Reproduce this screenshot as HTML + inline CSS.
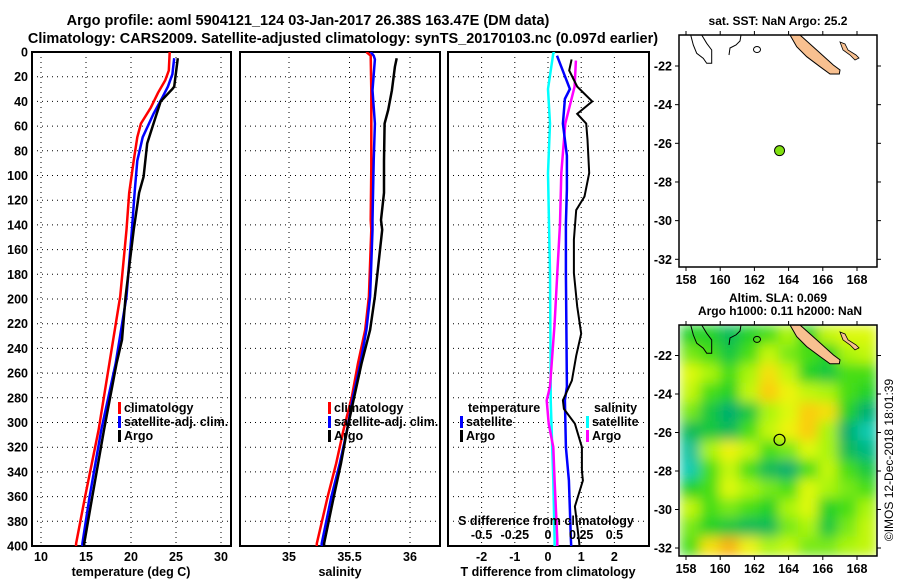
<!DOCTYPE html>
<html><head><meta charset="utf-8">
<style>
html,body{margin:0;padding:0;background:#fff;}
svg{display:block;font-family:"Liberation Sans",Arial,sans-serif;font-weight:bold;}
</style></head>
<body>
<svg id="fig" width="900" height="580" viewBox="0 0 900 580" xmlns="http://www.w3.org/2000/svg">
<defs>
<filter id="blur" x="-10%" y="-10%" width="120%" height="120%"><feGaussianBlur stdDeviation="6" edgeMode="duplicate"/></filter>
<clipPath id="clipMap2"><rect x="680" y="325" width="197" height="231"/></clipPath>
<clipPath id="clipP1"><rect x="32" y="52" width="199" height="494"/></clipPath>
<clipPath id="clipP2"><rect x="240" y="52" width="200" height="494"/></clipPath>
<clipPath id="clipP3"><rect x="448" y="52" width="201" height="494"/></clipPath>
</defs>
<text x="308" y="25" font-size="14.5" text-anchor="middle">Argo profile: aoml 5904121_124 03-Jan-2017 26.38S 163.47E (DM data)</text>
<text x="343" y="43" font-size="14.5" text-anchor="middle">Climatology: CARS2009. Satellite-adjusted climatology: synTS_20170103.nc (0.097d earlier)</text>
<text x="778" y="25" font-size="12" text-anchor="middle">sat. SST: NaN Argo: 25.2</text>
<text x="778" y="302" font-size="12" text-anchor="middle">Altim. SLA: 0.069</text>
<text x="780" y="315" font-size="12" text-anchor="middle">Argo h1000: 0.11 h2000: NaN</text>
<text transform="translate(893,460) rotate(-90)" font-size="12" font-weight="normal" text-anchor="middle">©IMOS 12-Dec-2018 18:01:39</text>
<g id="g"></g>
</svg>
<script>
// ---------- data ----------
const depthTicks = [0,20,40,60,80,100,120,140,160,180,200,220,240,260,280,300,320,340,360,380,400];
const tempTicks = [10,15,20,25,30];
const salTicks = [35,35.5,36];
const tdiffTicks = [-2,-1,0,1,2];
const sdiffTicks = [-0.5,-0.25,0,0.25,0.5];
const sdiffLabels = ["-0.5","-0.25","0","0.25","0.5"];

const climTDepth = [0,15,23,33,45,58,69,88,114,144,198,252,306,360,398,400];
const climT      = [24.3,24.2,23.8,23.0,22.2,21.1,20.7,20.3,19.8,19.5,18.8,17.6,16.4,14.9,13.9,13.9];
const satTDepth  = [5,18,28,38,50,69,88,114,144,198,252,306,360,398,400];
const satT       = [24.8,24.6,24.1,23.4,22.5,21.3,20.7,20.4,20.1,19.5,18.3,16.7,15.4,14.6,14.6];
const argoTDepth = [5,28,30,40,58,74,101,114,144,198,233,252,306,360,398,400];
const argoT      = [25.2,24.8,24.6,23.3,22.5,21.8,21.4,20.9,20.3,19.4,19.0,18.4,17.0,15.7,14.8,14.8];

const climSDepth = [0,3,31,93,136,144,198,225,252,279,306,333,360,398,400];
const climS      = [35.64,35.675,35.68,35.68,35.675,35.68,35.66,35.63,35.57,35.52,35.45,35.39,35.32,35.23,35.23];
const satSDepth  = [0,3,6,31,58,88,136,144,198,225,252,279,306,333,360,398,400];
const satS       = [35.675,35.70,35.71,35.69,35.71,35.70,35.69,35.69,35.67,35.64,35.59,35.53,35.48,35.42,35.35,35.27,35.27];
const argoSDepth = [5,12,31,47,58,88,114,136,144,198,225,252,279,306,333,360,398,400];
const argoS      = [35.89,35.875,35.85,35.82,35.79,35.785,35.785,35.76,35.77,35.71,35.67,35.60,35.54,35.48,35.43,35.37,35.29,35.29];

const dTArgoDepth = [6,15,28,40,50,58,71,98,117,128,152,179,206,228,246,266,282,289,301,320,339,347,368,395,400];
const dTArgo      = [0.71,0.64,0.88,1.33,0.88,1.15,1.19,1.24,1.10,0.85,0.78,0.78,0.88,1.0,0.85,0.72,0.45,0.48,0.81,1.02,1.02,1.05,0.81,0.93,0.95];
const dTSatDepth  = [3,30,38,58,84,111,139,179,271,282,320,347,395,400];
const dTSat       = [0.27,0.66,0.51,0.45,0.57,0.57,0.54,0.54,0.57,0.51,0.54,0.63,0.69,0.70];
const dSSatDepth  = [0,1,30,58,98,179,271,282,347,395,400];
const dSSat       = [0.05,0.04,0.0,0.015,0.0,0.015,0.02,0.02,0.04,0.05,0.05];
const dSArgoDepth = [7,28,58,98,139,179,220,271,282,301,320,347,395,400];
const dSArgo      = [0.21,0.20,0.13,0.10,0.09,0.07,0.05,0.015,-0.01,0.005,0.04,0.05,0.07,0.07];

const lonTicks = [158,160,162,164,166,168];
const latTicks = [-22,-24,-26,-28,-30,-32];
const argoLon = 163.47, argoLat = -26.38;
const slaGrid = [
 [0.4,0.4,0.3,0.4,0.45,0.55,0.4,0.6,0.65,0.65],
 [0.5,0.45,0.35,0.45,0.6,0.5,0.45,0.4,0.55,0.6],
 [0.65,0.55,0.45,0.55,0.75,0.6,0.4,0.35,0.45,0.45],
 [0.6,0.45,0.4,0.6,0.8,0.7,0.6,0.55,0.45,0.4],
 [0.5,0.35,0.25,0.35,0.55,0.65,0.8,0.75,0.4,0.25],
 [0.3,0.35,0.3,0.45,0.6,0.7,0.8,0.55,0.25,0.1],
 [0.15,0.55,0.7,0.6,0.45,0.5,0.65,0.55,0.3,0.2],
 [0.1,0.45,0.6,0.45,0.3,0.25,0.45,0.6,0.45,0.35],
 [0.4,0.45,0.65,0.55,0.5,0.45,0.65,0.55,0.5,0.45],
 [0.6,0.45,0.5,0.45,0.4,0.55,0.65,0.4,0.45,0.55],
 [0.5,0.4,0.35,0.3,0.3,0.5,0.55,0.35,0.5,0.6],
 [0.45,0.75,0.85,0.7,0.55,0.6,0.5,0.5,0.55,0.6]
];

// ---------- helpers ----------
const NS="http://www.w3.org/2000/svg";
const G=document.getElementById('g');
function mk(tag,attrs,parent){const e=document.createElementNS(NS,tag);for(const k in attrs)e.setAttribute(k,attrs[k]);(parent||G).appendChild(e);return e;}
const Y0=52,Y1=546;
const yD=d=>Y0+d*(Y1-Y0)/400;
const xT=t=>41+(t-10)*9.0;
const xS=s=>289+(s-35)*121;
const xDT=t=>548+t*33.2;
const xDS=s=>548+s*132.8;

function panel(x0,x1,name,xticks,xfun,labels){
  const grp=mk('g',{});
  
  
  depthTicks.forEach(d=>{if(d>0&&d<400){const l=mk('line',{x1:x0,x2:x1,y1:yD(d),y2:yD(d),stroke:'#000','stroke-width':1,'stroke-dasharray':'1,4'},grp);}});
  xticks.forEach((t,i)=>{const x=xfun(t);const l=mk('line',{x1:x,x2:x,y1:Y0,y2:Y1,stroke:'#000','stroke-width':1,'stroke-dasharray':'1,4'},grp);
    const tx=mk('text',{x:x,y:561,'font-size':12.5,'text-anchor':'middle'},grp);tx.textContent=labels?labels[i]:t;});
  const r=mk('rect',{x:x0,y:Y0,width:x1-x0,height:Y1-Y0,fill:'none',stroke:'#000','stroke-width':2},grp);
  
  return grp;
}
function line(xs,ds,xf,color,w,clip,name){
  const p=xs.map((v,i)=>xf(v).toFixed(1)+','+yD(ds[i]).toFixed(1)).join(' ');
  const e=mk('polyline',{points:p,fill:'none',stroke:color,'stroke-width':w,'stroke-linejoin':'miter','clip-path':'url(#'+clip+')'});
  
  
  return e;
}
function legend(x,y,color,label,name){
  const m=mk('rect',{x:x,y:y-10,width:3,height:12,fill:color});
  
  
  if(label){const t=mk('text',{x:x+6,y:y,'font-size':12.5});t.textContent=label;
  
  }
}

// ---------- panels ----------
panel(32,231,'temperature-panel',tempTicks,xT,null);
panel(240,440,'salinity-panel',salTicks,xS,["35","35.5","36"]);
panel(448,649,'difference-panel',tdiffTicks,xDT,null);
depthTicks.forEach(d=>{const t=mk('text',{x:28,y:yD(d)+4.5,'font-size':12.5,'text-anchor':'end'});t.textContent=d;
  
  });
[['temperature (deg C)',131,'temp-axis-title'],['salinity',340,'salinity-axis-title'],['T difference from climatology',548,'tdiff-axis-title']].forEach(a=>{
  const t=mk('text',{x:a[1],y:576,'font-size':12.5,'text-anchor':'middle'});t.textContent=a[0];
  
  });

line(climT,climTDepth,xT,'#f00',2.5,'clipP1','climatology-temp-line');
line(satT,satTDepth,xT,'#00f',2.5,'clipP1','satellite-temp-line');
line(argoT,argoTDepth,xT,'#000',2.5,'clipP1','argo-temp-line');
line(climS,climSDepth,xS,'#f00',2.5,'clipP2','climatology-sal-line');
line(satS,satSDepth,xS,'#00f',2.5,'clipP2','satellite-sal-line');
line(argoS,argoSDepth,xS,'#000',2.5,'clipP2','argo-sal-line');
line(dSSat,dSSatDepth,xDS,'#00ffff',2.5,'clipP3','satellite-sdiff-line');
line(dSArgo,dSArgoDepth,xDS,'#ff00ff',2.5,'clipP3','argo-sdiff-line');
line(dTSat,dTSatDepth,xDT,'#00f',2.5,'clipP3','satellite-tdiff-line');
line(dTArgo,dTArgoDepth,xDT,'#000',2,'clipP3','argo-tdiff-line');

{const t=mk('text',{x:546,y:525,'font-size':12.5,'text-anchor':'middle'});t.textContent='S difference from climatology';
}
sdiffTicks.forEach((s,i)=>{const t=mk('text',{x:xDS(s),y:539,'font-size':12.5,'text-anchor':'middle'});t.textContent=sdiffLabels[i];
  });

legend(118,412,'#f00','climatology','legend-climatology');
legend(118,426,'#00f','satellite-adj. clim.','legend-satellite');
legend(118,440,'#000','Argo','legend-argo');
legend(328,412,'#f00','climatology','legend-climatology-sal');
legend(328,426,'#00f','satellite-adj. clim.','legend-satellite-sal');
legend(328,440,'#000','Argo','legend-argo-sal');
{const t=mk('text',{x:468,y:412,'font-size':12.5});t.textContent='temperature';}
legend(460,426,'#00f','satellite','legend-tdiff-satellite');
legend(460,440,'#000','Argo','legend-tdiff-argo');
{const t=mk('text',{x:594,y:412,'font-size':12.5});t.textContent='salinity';}
legend(586,426,'#00ffff','satellite','legend-sdiff-satellite');
legend(586,440,'#ff00ff','Argo','legend-sdiff-argo');

// ---------- maps ----------
function mapAxes(y0,y1,xLat,yLat,name){
  const grp=mk('g',{});
  
  
  const r=mk('rect',{x:679,y:y0,width:198,height:y1-y0,fill:'none',stroke:'#000','stroke-width':1.5},grp);
  
  lonTicks.forEach(l=>{const x=xLat(l);mk('line',{x1:x,x2:x,y1:y1,y2:y1+4,stroke:'#000'},grp);mk('line',{x1:x,x2:x,y1:y0,y2:y0-4,stroke:'#000'},grp);
    const t=mk('text',{x:x,y:y1+17,'font-size':12.5,'text-anchor':'middle'},grp);t.textContent=l;});
  latTicks.forEach(l=>{const y=yLat(l);mk('line',{x1:679,x2:675,y1:y,y2:y,stroke:'#000'},grp);mk('line',{x1:877,x2:881,y1:y,y2:y,stroke:'#000'},grp);
    const t=mk('text',{x:672,y:y+4.5,'font-size':12.5,'text-anchor':'end'},grp);t.textContent=l;});
}
const xLon=l=>686+(l-158)*17.1;
const yLat1=l=>66+(-22-l)*19.33;
const yLat2=l=>355.5+(-22-l)*19.25;

function slaColor(v){
  const stops=[[0,[20,220,220]],[0.25,[0,175,110]],[0.42,[40,215,30]],[0.55,[170,245,10]],[0.68,[235,250,10]],[0.8,[250,205,10]],[0.9,[245,155,15]]];
  for(let i=1;i<stops.length;i++){if(v<=stops[i][0]){const a=stops[i-1],b=stops[i],f=(v-a[0])/(b[0]-a[0]);return 'rgb('+a[1].map((c,k)=>Math.round(c+(b[1][k]-c)*f)).join(',')+')';}}
  return 'rgb(245,155,15)';
}
const heat=mk('g',{'clip-path':'url(#clipMap2)'});


const blurG=mk('g',{filter:'url(#blur)'},heat);
const cw=197/slaGrid[0].length, ch=231/slaGrid.length;
slaGrid.forEach((row,r)=>row.forEach((v,c)=>{
  const cell=mk('rect',{x:(680+c*cw).toFixed(1),y:(325+r*ch).toFixed(1),width:(cw+0.6).toFixed(1),height:(ch+0.6).toFixed(1),fill:slaColor(v)},blurG);
  
  
}));

function coast(dy,sy){
  const f=y=>(dy+(y-35)*sy).toFixed(1);
  const isl=mk('polygon',{points:[[790,35],[800,35],[816.7,50],[833.3,65],[840,70],[839.3,74],[830,74],[820,66.7],[806.7,56.7],[796.7,46.7]].map(p=>p[0]+','+f(p[1])).join(' '),fill:'#f8c090',stroke:'#000','stroke-width':1});
  
  
  const isl2=mk('polygon',{points:[[840,42],[845,44],[848,50],[856,55],[859,58],[855,60],[850,55],[843,50]].map(p=>p[0]+','+f(p[1])).join(' '),fill:'#f8c090',stroke:'#000','stroke-width':0.8});
  
  
  const c1=mk('polyline',{points:[[690.7,35],[693.3,45],[696.7,53.3],[703.3,58.3],[706.7,63.3],[711.7,63.3],[711.7,50],[706.7,43.3],[701.7,35]].map(p=>p[0]+','+f(p[1])).join(' '),fill:'none',stroke:'#000','stroke-width':1});
  
  
  const c2=mk('polyline',{points:[[729,55],[730,48],[736,45],[740,41],[741,35]].map(p=>p[0]+','+f(p[1])).join(' '),fill:'none',stroke:'#000','stroke-width':1});
  
  
  const c3=mk('ellipse',{cx:757,cy:f(49.5),rx:3.5,ry:3,fill:'none',stroke:'#000'});
  
  
}
coast(35,1);
coast(325,0.995);

mapAxes(35,267,xLon,yLat1,'sst-map');
mapAxes(325,556,xLon,yLat2,'sla-map');

const m1=mk('circle',{cx:xLon(argoLon),cy:yLat1(argoLat),r:5,fill:'#80e010',stroke:'#000','stroke-width':1});


const m2=mk('circle',{cx:xLon(argoLon),cy:yLat2(argoLat),r:5.5,fill:'none',stroke:'#000','stroke-width':1.2});


</script>
</body></html>
